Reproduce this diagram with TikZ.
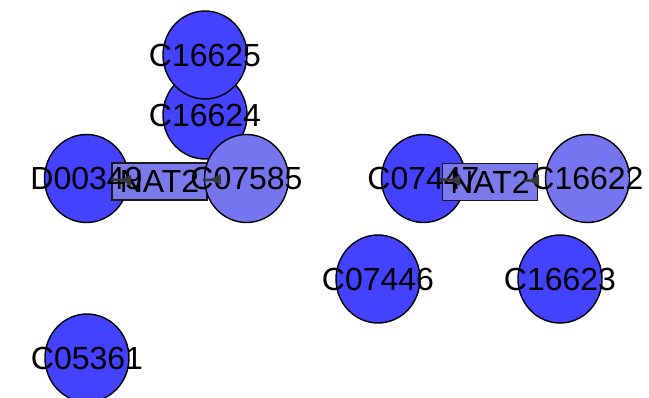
\documentclass[tikz,border=0pt]{standalone}
\usepackage{fontspec}
\setmainfont{Liberation Sans}
\usepackage{xcolor}
\definecolor{cpddark}{RGB}{66,66,255}
\definecolor{cpdlight}{RGB}{117,117,240}
\definecolor{genefill}{RGB}{122,122,236}
\definecolor{edgegray}{RGB}{56,56,56}
\usetikzlibrary{arrows.meta, shapes.geometric}

\begin{document}
\begin{tikzpicture}[x=1pt, y=-1pt,
  cpd/.style={ellipse, draw=black, line width=1.4pt,
              minimum width=84pt, minimum height=88pt, inner sep=0pt, fill=#1},
  gene/.style={rectangle, draw=black!90, line width=1.3pt,
               minimum width=95pt, minimum height=37pt, inner sep=0pt, fill=genefill},
  lbl/.style={font=\fontsize{32}{38}\selectfont, text=black, inner sep=0pt},
  arr/.style={-{Triangle[reversed, length=11pt, width=10pt]}, line width=2.4pt, draw=edgegray}
]
\useasboundingbox (0,0) rectangle (649,398);

% Compounds, left reaction
\node[cpd=cpddark] (d00349) at (86.5,178.5) {};
\node[cpd=cpddark] (c16624) at (205,115) {};
\node[cpd=cpddark] (c16625) at (205,55) {};
\node[gene] (nat2a) at (159.5,181.5) {};
\node[cpd=cpdlight] (c07585) at (246.5,178.5) {};

% Compounds, right reaction
\node[cpd=cpddark] (c07447) at (423.5,178.5) {};
\node[gene] (nat2b) at (490,182) {};
\node[cpd=cpdlight] (c16622) at (587.5,178.5) {};

% Loose compounds
\node[cpd=cpddark] (c07446) at (378,279) {};
\node[cpd=cpddark] (c16623) at (560,279) {};
\node[cpd=cpddark] (c05361) at (87,358) {};

% Labels
\node[lbl] at (d00349) {D00349};
\node[lbl] at (c16624) {C16624};
\node[lbl] at (c16625) {C16625};
\node[lbl] at (nat2a) {NAT2};
\node[lbl] at (c07585) {C07585};
\node[lbl] at (c07447) {C07447};
\node[lbl] at (nat2b) {NAT2};
\node[lbl] at (c16622) {C16622};
\node[lbl] at (c07446) {C07446};
\node[lbl] at (c16623) {C16623};
\node[lbl] at (c05361) {C05361};

% Edges
\draw[arr, shorten <=24.5pt, shorten >=28.5pt] (d00349.center) -- (nat2a.center);
\draw[arr, shorten <=43.5pt, shorten >=25.5pt] (nat2a.center) -- (c07585.center);
\draw[arr, shorten <=16.5pt, shorten >=30pt] (c07447.center) -- (nat2b.center);
\draw[arr, shorten <=34pt, shorten >=48.5pt] (nat2b.center) -- (c16622.center);
\end{tikzpicture}
\end{document}
